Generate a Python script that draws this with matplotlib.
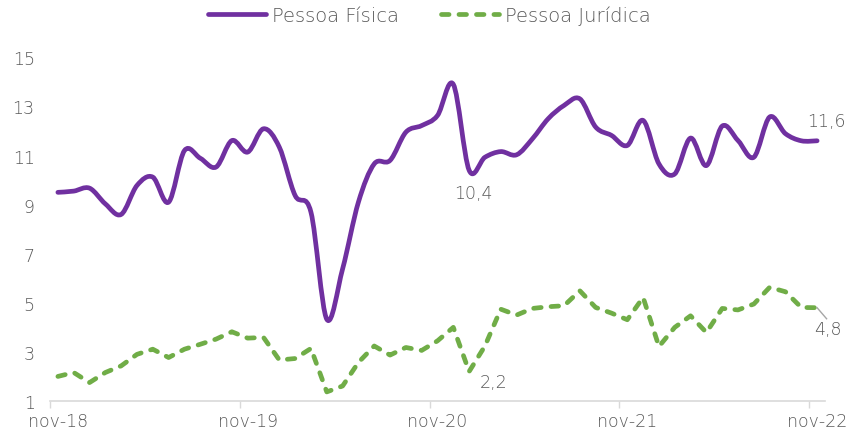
import matplotlib
matplotlib.use("Agg")
import matplotlib.pyplot as plt
import numpy as np
from matplotlib.path import Path
from matplotlib.patches import PathPatch
from matplotlib.lines import Line2D

plt.rcParams['font.family'] = ['DejaVu Sans']
plt.rcParams['font.weight'] = 'light'

# monthly series, nov-18 .. nov-22
pessoa_fisica = [9.5, 9.55, 9.67, 9.03, 8.6, 9.78, 10.12, 9.1, 11.2, 10.89,
                 10.53, 11.61, 11.14, 12.09, 11.34, 9.37, 8.69, 4.33, 6.38, 9.1,
                 10.66, 10.8, 11.95, 12.22, 12.63, 13.9, 10.4, 10.93, 11.16, 11.03,
                 11.68, 12.5, 13.04, 13.31, 12.16, 11.82, 11.41, 12.43, 10.66, 10.25,
                 11.71, 10.59, 12.2, 11.61, 10.93, 12.57, 11.89, 11.6, 11.6]
pessoa_juridica = [2.0, 2.16, 1.75, 2.16, 2.43, 2.9, 3.11, 2.77, 3.11, 3.31,
                   3.52, 3.82, 3.56, 3.59, 2.67, 2.73, 3.14, 1.37, 1.61, 2.57,
                   3.24, 2.87, 3.18, 3.06, 3.45, 4.0, 2.2, 3.24, 4.74, 4.5,
                   4.77, 4.84, 4.88, 5.49, 4.81, 4.58, 4.31, 5.22, 3.22, 4.0,
                   4.47, 3.79, 4.77, 4.71, 4.95, 5.63, 5.45, 4.81, 4.8]
tick_labels = ['nov-18', 'nov-19', 'nov-20', 'nov-21', 'nov-22']
y_ticks = [1, 3, 5, 7, 9, 11, 13, 15]

roxo = '#7030A0'
verde = '#70AD47'
cinza = '#595959'
traco = (1.6, 2.1)


def smooth_path(x, y):
    # Excel-like smoothed line: cubic Bezier through every point
    pts = np.column_stack([x, y])
    ext = np.vstack([pts[0], pts, pts[-1]])
    verts = [pts[0]]
    codes = [Path.MOVETO]
    for i in range(len(pts) - 1):
        p0, p1, p2, p3 = ext[i], ext[i + 1], ext[i + 2], ext[i + 3]
        c1 = p1 + (p2 - p0) / 6
        c2 = p2 - (p3 - p1) / 6
        verts += [c1, c2, p2]
        codes += [Path.CURVE4] * 3
    return Path(verts, codes)


x = np.arange(len(pessoa_fisica))

fig = plt.figure(figsize=(8.5, 4.35), dpi=100)
ax = fig.add_axes([0.0588, 0.0759, 0.9118, 0.790])

patch = PathPatch(smooth_path(x, pessoa_fisica), facecolor='none', edgecolor=roxo,
                  lw=3.4, capstyle='round', joinstyle='round', clip_on=False)
ax.add_patch(patch)
ax.plot(x, pessoa_juridica, color=verde, lw=3.4, dashes=traco,
        dash_capstyle='round', solid_joinstyle='round')

ax.set_xlim(-0.5, len(x) - 0.5)
ax.set_ylim(1, 15)
ax.set_yticks(y_ticks)
# labels centred on the month, tick marks on the category boundaries
ax.set_xticks([12 * k for k in range(len(tick_labels))])
ax.set_xticklabels(tick_labels)
ax.set_xticks([-0.5 + 12 * k for k in range(len(tick_labels))], minor=True)
ax.tick_params(axis='y', length=0, labelsize=12.5, colors=cinza, pad=11)
ax.tick_params(axis='x', which='major', length=0, labelsize=12.5,
               labelcolor=cinza, pad=8)
ax.tick_params(axis='x', which='minor', length=5, width=1, color='#d9d9d9')
for s in ['top', 'right', 'left']:
    ax.spines[s].set_visible(False)
ax.spines['bottom'].set_color('#d9d9d9')
ax.spines['bottom'].set_linewidth(1.2)

# data labels
ax.text(26.3, 10.4 - 0.55, '10,4', ha='center', va='top', fontsize=12.5, color=cinza)
ax.text(48.6, 11.6 + 0.45, '11,6', ha='center', va='bottom', fontsize=12.5, color=cinza)
ax.text(26.7, 2.2 - 0.05, '2,2', ha='left', va='top', fontsize=12.5, color=cinza)
ax.plot([48, 48.6], [4.8, 4.35], color='#a6a6a6', lw=1, clip_on=False)
ax.text(48.7, 4.3, '4,8', ha='center', va='top', fontsize=12.5, color=cinza)

handles = [Line2D([], [], color=roxo, lw=3.4, solid_capstyle='round'),
           Line2D([], [], color=verde, lw=3.4, dashes=traco, dash_capstyle='round')]
fig.legend(handles, ['Pessoa Física', 'Pessoa Jurídica'], loc='upper center',
           bbox_to_anchor=(0.505, 1.025), ncol=2, frameon=False, fontsize=14,
           labelcolor=cinza, handlelength=3.0, columnspacing=2.15, handletextpad=0.3)

fig.savefig('out.png', dpi=100)
